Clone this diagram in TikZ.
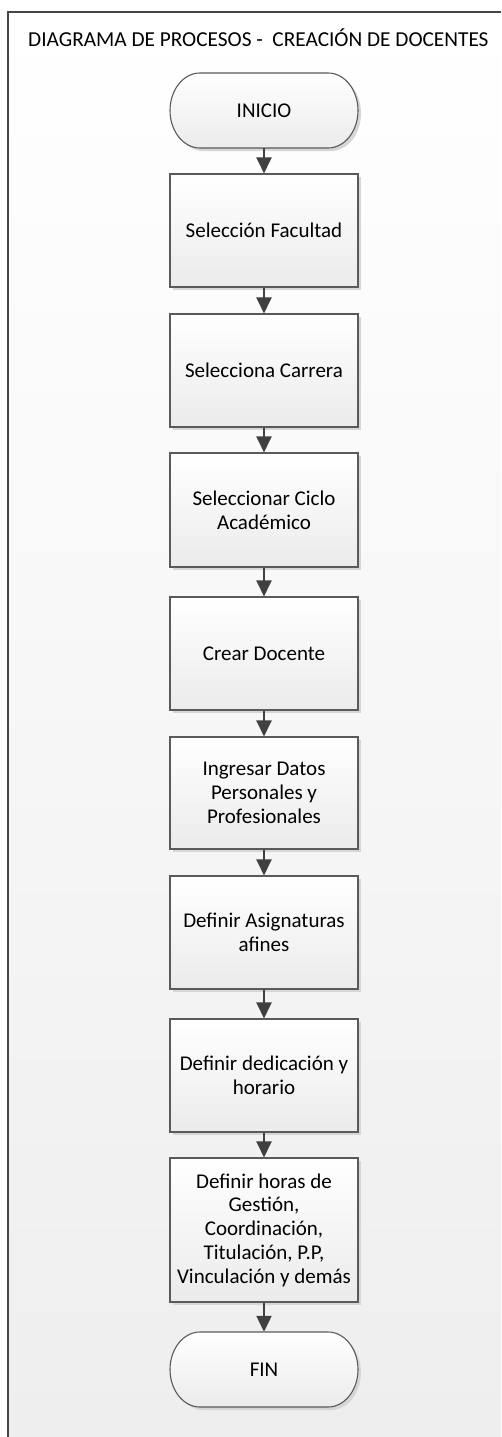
\documentclass[tikz,border=0pt]{standalone}
\usepackage{fontspec}
\setmainfont{Carlito}
\usetikzlibrary{arrows.meta}

\definecolor{frameline}{HTML}{444444}
\definecolor{boxline}{HTML}{5A5A5A}
\definecolor{boxbot}{HTML}{EBEBEB}
\definecolor{shadowgray}{HTML}{D6D6D6}
\definecolor{flowgray}{HTML}{404040}
\definecolor{pagebot}{HTML}{EEEEEE}

\newcommand\boxfont{\fontsize{21}{23.8}\selectfont}
\newcommand\titlefont{\fontsize{21.3}{24}\selectfont}

\tikzset{
  shadowed/.style={preaction={draw=none, fill=shadowgray,
      transform canvas={shift={(3pt,-3pt)}}}},
  procbox/.style={shadowed, draw=boxline, line width=1.1pt,
      top color=white, bottom color=boxbot,
      minimum width=188pt, inner sep=0pt, align=center, font=\boxfont},
  termshape/.style={shadowed, draw=boxline, line width=1.1pt,
      top color=white, bottom color=boxbot},
  termnode/.style={minimum width=188pt, minimum height=75pt,
      inner sep=0pt, align=center, font=\boxfont},
  flow/.style={draw=flowgray, line width=2.2pt,
      -{Triangle[length=16pt, width=15pt]}},
}

% terminator: name, vertical centre, label
\newcommand\terminator[3]{%
  \path[termshape] (200,{#2-37.5}) -- (328,{#2-37.5})
    arc[start angle=90, end angle=-90, x radius=30pt, y radius=37.5pt]
    -- (200,{#2+37.5})
    arc[start angle=270, end angle=90, x radius=30pt, y radius=37.5pt]
    -- cycle;
  \node[termnode] (#1) at (264,#2) {#3};
}

\begin{document}
\begin{tikzpicture}[x=1pt, y=-1pt]
  \useasboundingbox (0,0) rectangle (501,1437);

  % page area with its frame
  \shade[top color=white, bottom color=pagebot] (8,12) rectangle (501,1437);
  \draw[frameline, line width=1.2pt] (8,1437) -- (8,12) -- (501,12);

  \node[font=\titlefont, anchor=base west, inner sep=0pt] (title) at (28,47)
    {DIAGRAMA DE PROCESOS -\ \ CREACIÓN DE DOCENTES};

  \terminator{inicio}{110.5}{INICIO}

  \node[procbox, minimum height=113pt] (b1) at (264,230.5) {Selección Facultad};
  \node[procbox, minimum height=113pt] (b2) at (264,370.5) {Selecciona Carrera};
  \node[procbox, minimum height=114pt] (b3) at (264,510) {Seleccionar Ciclo\\Académico};
  \node[procbox, minimum height=113pt] (b4) at (264,653.5) {Crear Docente};
  \node[procbox, minimum height=112pt] (b5) at (264,793) {Ingresar Datos\\Personales y\\Profesionales};
  \node[procbox, minimum height=113pt] (b6) at (264,932.5) {Definir Asignaturas\\afines};
  \node[procbox, minimum height=113pt] (b7) at (264,1075.5) {Definir dedicación y\\horario};
  \node[procbox, minimum height=144pt] (b8) at (264,1230) {Definir horas de\\Gestión,\\Coordinación,\\Titulación, P.P,\\Vinculación y demás};

  \terminator{fin}{1369.5}{FIN}

  \draw[flow] (inicio.south) -- (b1.north);
  \draw[flow] (b1.south) -- (b2.north);
  \draw[flow] (b2.south) -- (b3.north);
  \draw[flow] (b3.south) -- (b4.north);
  \draw[flow] (b4.south) -- (b5.north);
  \draw[flow] (b5.south) -- (b6.north);
  \draw[flow] (b6.south) -- (b7.north);
  \draw[flow] (b7.south) -- (b8.north);
  \draw[flow] (b8.south) -- (fin.north);
\end{tikzpicture}
\end{document}
